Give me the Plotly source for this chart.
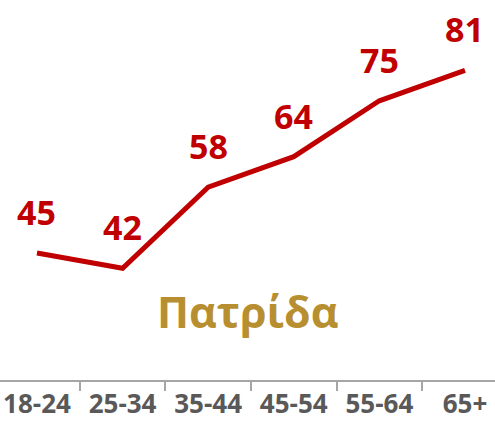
import plotly.graph_objects as go

# Ηλικιακές ομάδες και ποσοστά
age_groups = ['18-24', '25-34', '35-44', '45-54', '55-64', '65+']
values = [45, 42, 58, 64, 75, 81]
series_name = 'Πατρίδα'

red = '#C00000'
gold = '#B88F30'
grey_text = '#595959'
axis_grey = '#A6A6A6'

positions = list(range(len(age_groups)))
x_range = [-0.432, 5.351]

fig = go.Figure()
fig.add_trace(go.Scatter(
    x=positions,
    y=values,
    mode='lines',
    line=dict(color=red, width=5),
    hoverinfo='skip',
))
# άδειο trace για τον δεύτερο άξονα (γραμμές διαχωρισμού κατηγοριών)
fig.add_trace(go.Scatter(x=[], y=[], xaxis='x2', hoverinfo='skip'))

# Ετικέτες τιμών πάνω από κάθε σημείο
for i, v in enumerate(values):
    fig.add_annotation(
        x=i, y=v, text='<b>%d</b>' % v, showarrow=False,
        yshift=41, font=dict(family='Open Sans', size=34, color=red),
    )

fig.add_annotation(
    xref='paper', yref='paper', x=0.5, y=0.179,
    xanchor='center', yanchor='middle',
    text='<b>%s</b>' % series_name, showarrow=False,
    font=dict(family='Open Sans', size=43, color=gold),
)

fig.update_layout(
    width=495, height=421,
    margin=dict(l=0, r=0, t=0, b=41),
    plot_bgcolor='white', paper_bgcolor='white',
    showlegend=False,
    xaxis=dict(
        range=x_range,
        tickmode='array',
        tickvals=positions,
        ticktext=age_groups,
        ticks='',
        automargin=False,
        showline=True, linecolor=axis_grey, linewidth=2,
        showgrid=False, zeroline=False,
        tickfont=dict(family='Open Sans', size=26, color=grey_text, weight='bold'),
    ),
    xaxis2=dict(
        overlaying='x', side='bottom', anchor='y',
        range=x_range,
        tickmode='array',
        tickvals=[p + 0.5 for p in positions[:-1]],
        ticks='outside', ticklen=10, tickwidth=2, tickcolor=axis_grey,
        showticklabels=False, showgrid=False, zeroline=False,
        automargin=False,
    ),
    yaxis=dict(
        range=[20, 94.85], visible=False, showgrid=False, zeroline=False,
    ),
)

# το body της σελίδας έχει margin 8px - το μηδενίζουμε
fig.write_html('out.html', config={'displayModeBar': False},
               post_script="document.body.style.margin='0';")
